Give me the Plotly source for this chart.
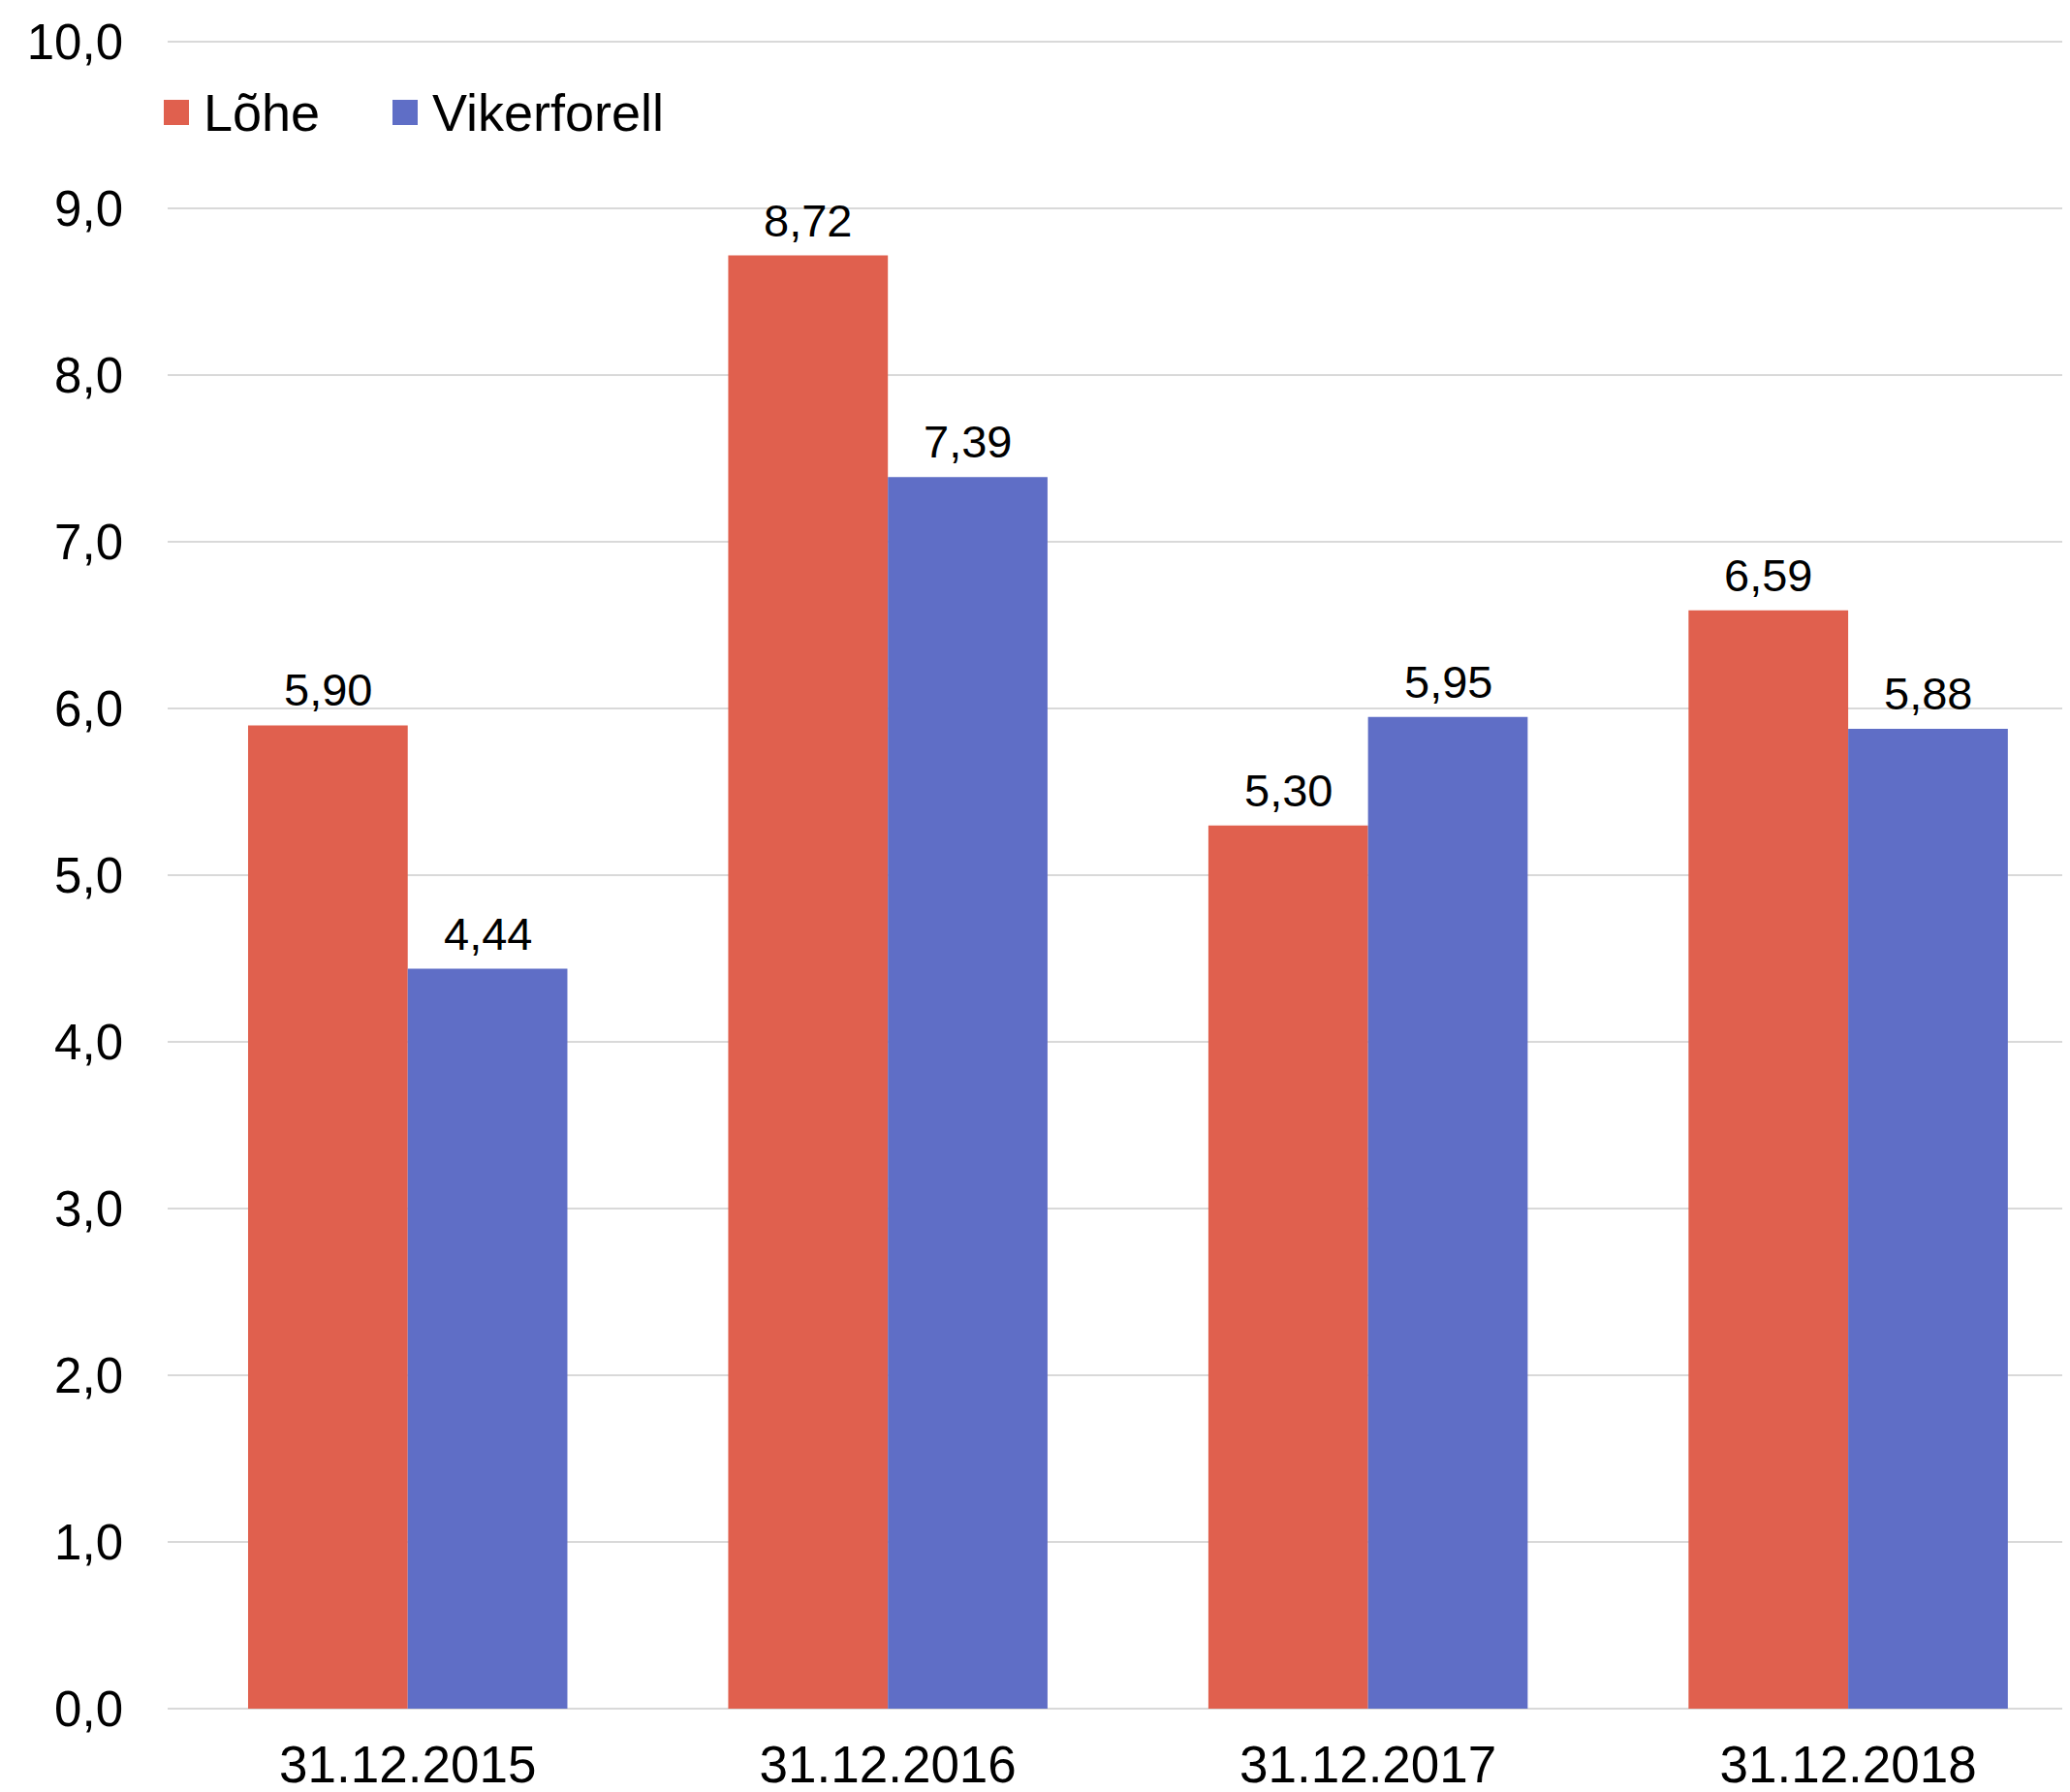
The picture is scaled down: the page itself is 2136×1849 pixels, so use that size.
import plotly.graph_objects as go

categories = ["31.12.2015", "31.12.2016", "31.12.2017", "31.12.2018"]
lohe = [5.90, 8.72, 5.30, 6.59]
vikerforell = [4.44, 7.39, 5.95, 5.88]
series_names = ["Lõhe", "Vikerforell"]
colors = ["#E0604E", "#5F6EC6"]

FONT = "Liberation Sans, Arial, sans-serif"

# the page body adds an 8px margin, so the figure is drawn 8px smaller
PAGE_OFF = 8
W, H = 2136 - PAGE_OFF, 1849 - PAGE_OFF
ML, MR, MT, MB = 165, 0, 32, 86
PW, PH = W - ML - MR, H - MT - MB
XR = [-0.5, 3.462]
YR = [0, 10.02]
BARGAP = 0.335

fig = go.Figure()
for name, vals, col in zip(series_names, [lohe, vikerforell], colors):
    fig.add_trace(go.Bar(
        x=categories, y=vals, name=name,
        marker=dict(color=col, line=dict(width=0)),
        showlegend=False,
    ))

# data labels above each bar
cat_px = PW / (XR[1] - XR[0])
bar_px = (1 - BARGAP) * cat_px / 2
for i, vals in enumerate([lohe, vikerforell]):
    off = (-0.5 if i == 0 else 0.5) * bar_px
    for c, v in zip(categories, vals):
        fig.add_annotation(
            x=c, y=v, xref="x", yref="y", text=f"{v:.2f}".replace(".", ","),
            showarrow=False, xanchor="center", yanchor="bottom",
            xshift=off, yshift=8,
            font=dict(family=FONT, size=47, color="#000000"),
        )

# legend (drawn with large square swatches as in the reference)
def px_to_paper_x(px):
    return (px - PAGE_OFF - ML) / PW

def px_to_paper_y(py):
    return 1 - (py - PAGE_OFF - MT) / PH

legend_items = [(169, 208), (405, 444)]
leg_cy = 116
sq = 26
for (sx, tx), name, col in zip(legend_items, series_names, colors):
    fig.add_shape(
        type="rect", xref="paper", yref="paper",
        x0=px_to_paper_x(sx), x1=px_to_paper_x(sx + sq),
        y0=px_to_paper_y(leg_cy + sq / 2), y1=px_to_paper_y(leg_cy - sq / 2),
        fillcolor=col, line=dict(width=0), layer="above",
    )
    fig.add_annotation(
        x=px_to_paper_x(tx), y=px_to_paper_y(leg_cy), xref="paper", yref="paper",
        text=name, showarrow=False, xanchor="left", yanchor="middle",
        font=dict(family=FONT, size=54, color="#000000"),
    )

fig.update_layout(
    width=W, height=H,
    margin=dict(l=ML, r=MR, t=MT, b=MB),
    paper_bgcolor="white", plot_bgcolor="white",
    separators=",.",
    barmode="group", bargap=BARGAP, bargroupgap=0,
    font=dict(family=FONT, color="#000000"),
    showlegend=False,
    xaxis=dict(
        range=XR, showgrid=False, zeroline=False, showline=False,
        ticks="", tickfont=dict(family=FONT, size=53, color="#000000"),
        ticklabelstandoff=22,
    ),
    yaxis=dict(
        range=YR, tickvals=[0, 1, 2, 3, 4, 5, 6, 7, 8, 9, 10],
        tickformat=".1f", showgrid=True,
        gridcolor="#D9D9D9", gridwidth=2, zeroline=True, zerolinecolor="#D9D9D9",
        zerolinewidth=2, showline=False, ticks="",
        tickfont=dict(family=FONT, size=51, color="#000000"),
        ticklabelstandoff=45,
    ),
)

fig.write_html("out.html")
